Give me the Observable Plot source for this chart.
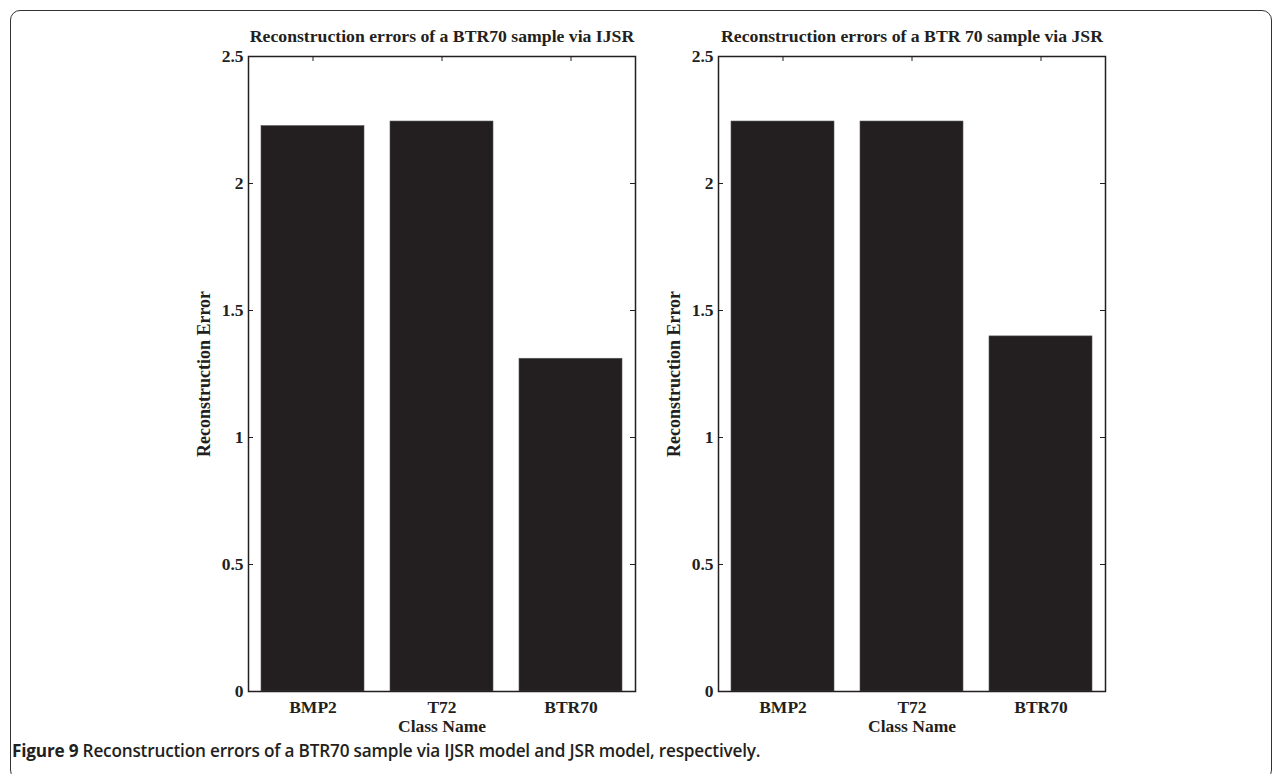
<!DOCTYPE html>
<html>
<head>
<meta charset="utf-8">
<script src="https://cdn.jsdelivr.net/npm/d3@7"></script>
<script src="https://cdn.jsdelivr.net/npm/@observablehq/plot@0.6"></script>
<style>
  html, body { margin: 0; padding: 0; background: #fff; }
  body { width: 1282px; height: 774px; position: relative; overflow: hidden; }
  #frame { position: absolute; left: 10px; top: 10px; width: 1262px; height: 770px;
           border: 1.5px solid #333; border-radius: 10px; box-sizing: border-box; }
  .panel { position: absolute; top: 0; }
  #caption { position: absolute; left: 12px; top: 739px; font-family: "Open Sans", sans-serif;
             font-weight: 600; font-size: 17.2px; color: #231f20; white-space: nowrap; letter-spacing: -0.2px; }
  #caption b { font-weight: 700; }
</style>
</head>
<body>
<div id="frame"></div>
<div id="p1" class="panel" style="left:160px"></div>
<div id="p2" class="panel" style="left:630px"></div>
<div id="caption"><b>Figure 9</b> Reconstruction errors of a BTR70 sample via IJSR model and JSR model, respectively.</div>
<script>
const categories = ["BMP2", "T72", "BTR70"];
const ijsrErrors = [2.226, 2.244, 1.31];
const jsrErrors = [2.244, 2.244, 1.398];
const yTicks = [0, 0.5, 1, 1.5, 2, 2.5];
const titles = ["Reconstruction errors of a BTR70 sample via IJSR", "Reconstruction errors of a BTR 70 sample via JSR"];
const yLabel = "Reconstruction Error";
const xLabel = "Class Name";

const W = 500, H = 740, ML = 88, MR = 25, MT = 56, MB = 49;
const plotW = W - ML - MR, plotH = H - MT - MB;
const tickLen = 5;
const ink = "#231f20";
const fs = 17.5;

function panel(values, title) {
  const data = categories.map((c, i) => ({c, v: values[i]}));
  return Plot.plot({
    width: W, height: H,
    marginLeft: ML, marginRight: MR, marginTop: MT, marginBottom: MB,
    style: {fontFamily: "'Liberation Serif', serif", fontWeight: "bold", fontSize: fs + "px", color: ink, background: "transparent", overflow: "visible"},
    x: {type: "band", domain: categories, paddingInner: 0.2, paddingOuter: 0.1, label: null},
    y: {domain: [0, 2.5], label: null},
    marks: [
      Plot.barY(data, {x: "c", y: "v", fill: ink, stroke: "#555", strokeWidth: 0.6}),
      Plot.tickY(yTicks, {y: d => d, stroke: ink, strokeWidth: 1, insetRight: plotW - tickLen}),
      Plot.tickY(yTicks, {y: d => d, stroke: ink, strokeWidth: 1, insetLeft: plotW - tickLen}),
      Plot.tickX(categories, {x: d => d, stroke: ink, strokeWidth: 1, insetBottom: plotH - tickLen}),
      Plot.frame({stroke: ink, strokeWidth: 1.5}),
      Plot.axisY({ticks: yTicks, tickSize: 0, tickPadding: 5, tickFormat: d => String(d), fontSize: fs, fontWeight: "bold", label: null}),
      Plot.axisX({tickSize: 0, tickPadding: 9, fontSize: fs, fontWeight: "bold", label: null}),
      Plot.text([xLabel], {frameAnchor: "bottom", dy: 40, text: d => d, fontSize: fs, fontWeight: "bold", fill: ink}),
      Plot.text([yLabel], {frameAnchor: "left", dx: -44, rotate: -90, textAnchor: "middle", text: d => d, fontSize: 18, fontWeight: "bold", fill: ink}),
      Plot.text([title], {frameAnchor: "top", dy: -27, text: d => d, fontSize: 17.7, fontWeight: "bold", fill: ink})
    ]
  });
}

document.getElementById("p1").append(panel(ijsrErrors, titles[0]));
document.getElementById("p2").append(panel(jsrErrors, titles[1]));
</script>
</body>
</html>
